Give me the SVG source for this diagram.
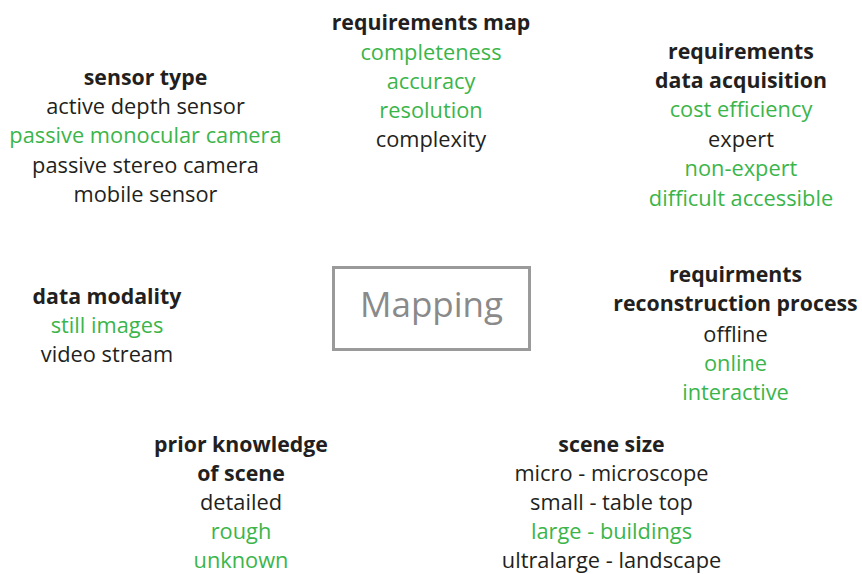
<svg xmlns="http://www.w3.org/2000/svg" width="862" height="574" viewBox="0 0 862 574">
  <style>
    text { font-family: "Open Sans", "Noto Sans", "DejaVu Sans", sans-serif; font-size: 21.8px; text-anchor: middle; fill: #231f20; }
    .h { font-weight: bold; font-size: 21.3px; }
    .g { fill: #3bb54a; }
    .box { fill: #ffffff; stroke: #9a9a9a; stroke-width: 3; }
    .center { font-size: 35px; fill: #8a8a8a; }
  </style>
  <rect width="862" height="574" fill="#ffffff"/>

  <!-- central node -->
  <g id="mapping">
    <rect class="box" x="333.5" y="267.5" width="196" height="82"/>
    <text class="center" x="431.5" y="317">Mapping</text>
  </g>

  <!-- no connectors in this diagram -->
  <g id="connectors"/>

  <g id="requirements-map">
    <text class="h" x="431" y="30">requirements map</text>
    <text class="g" x="431" y="60">completeness</text>
    <text class="g" x="431" y="89">accuracy</text>
    <text class="g" x="431" y="118">resolution</text>
    <text x="431" y="147">complexity</text>
  </g>

  <g id="sensor-type">
    <text class="h" x="145.5" y="85">sensor type</text>
    <text x="145.5" y="114">active depth sensor</text>
    <text class="g" x="145.5" y="143">passive monocular camera</text>
    <text x="145.5" y="173">passive stereo camera</text>
    <text x="145.5" y="202">mobile sensor</text>
  </g>

  <g id="requirements-data-acquisition">
    <text class="h" x="741" y="59">requirements</text>
    <text class="h" x="741" y="88">data acquisition</text>
    <text class="g" x="741" y="117">cost efficiency</text>
    <text x="741" y="147">expert</text>
    <text class="g" x="741" y="176">non-expert</text>
    <text class="g" x="741" y="206">difficult accessible</text>
  </g>

  <g id="data-modality">
    <text class="h" x="107" y="304">data modality</text>
    <text class="g" x="107" y="333">still images</text>
    <text x="107" y="362">video stream</text>
  </g>

  <g id="requirements-reconstruction-process">
    <text class="h" x="735.5" y="282">requirments</text>
    <text class="h" x="735.5" y="311">reconstruction process</text>
    <text x="735.5" y="342">offline</text>
    <text class="g" x="735.5" y="371">online</text>
    <text class="g" x="735.5" y="400">interactive</text>
  </g>

  <g id="prior-knowledge">
    <text class="h" x="241" y="452">prior knowledge</text>
    <text class="h" x="241" y="481">of scene</text>
    <text x="241" y="510">detailed</text>
    <text class="g" x="241" y="539">rough</text>
    <text class="g" x="241" y="568">unknown</text>
  </g>

  <g id="scene-size">
    <text class="h" x="611.5" y="452">scene size</text>
    <text x="611.5" y="481">micro - microscope</text>
    <text x="611.5" y="510">small - table top</text>
    <text class="g" x="611.5" y="539">large - buildings</text>
    <text x="611.5" y="568">ultralarge - landscape</text>
  </g>
</svg>
